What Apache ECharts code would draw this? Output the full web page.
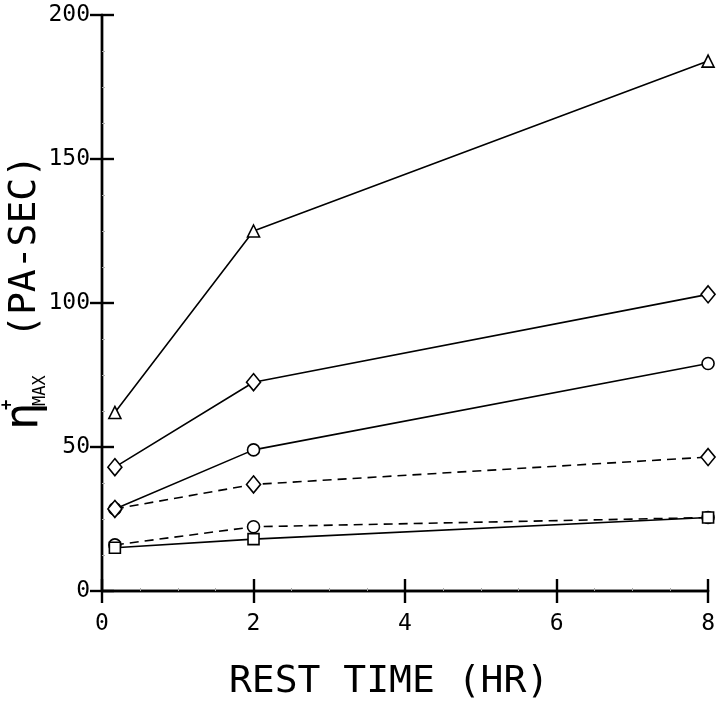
<!DOCTYPE html>
<html>
<head>
<meta charset="utf-8">
<script src="https://cdn.jsdelivr.net/npm/echarts@6/dist/echarts.min.js"></script>
<style>
html,body{margin:0;padding:0;background:#fff;}
#chart{width:718px;height:706px;}
</style>
</head>
<body>
<div id="chart"></div>
<script>
// ---- data ----
const restTimes = [0.17, 2, 8];
const triangleSolid = [62, 125, 184];
const diamondSolid = [43, 72.5, 103];
const circleSolid = [28.5, 49, 79];
const diamondDashed = [28.5, 37, 46.5];
const circleDashed = [16, 22.3, 25.5];
const squareSolid = [15, 18, 25.5];
const xTicks = [0, 2, 4, 6, 8];
const yTicks = [0, 50, 100, 150, 200];
const xTitle = 'REST TIME (HR)';

const FONT = '"DejaVu Sans Mono", monospace';

function pts(ys) { return restTimes.map((x, i) => [x, ys[i]]); }

function mk(ys, symbol, size, dashed) {
  return {
    type: 'line',
    data: pts(ys),
    symbol: symbol,
    symbolSize: size,
    showSymbol: true,
    animation: false,
    lineStyle: { color: '#000', width: 1.6, type: dashed ? [9, 6] : 'solid' },
    itemStyle: { color: '#fff', borderColor: '#000', borderWidth: 1.6 },
    z: 3
  };
}

const chart = echarts.init(document.getElementById('chart'), null, { renderer: 'canvas' });

const axisCommon = {
  axisLine: { show: true, lineStyle: { color: '#000', width: 2.4 } },
  axisTick: { show: true, inside: true, length: 12, lineStyle: { color: '#000', width: 2.4 } },
  minorTick: { show: true, splitNumber: 4, length: 3, lineStyle: { color: '#aaa', width: 1 } },
  splitLine: { show: false }
};

chart.setOption({
  animation: false,
  backgroundColor: '#fff',
  grid: { left: 102, right: 9, top: 15, bottom: 91, containLabel: false },
  xAxis: [
    Object.assign({
      type: 'value', min: 0, max: 8, interval: 2, position: 'bottom',
      axisLabel: { color: '#000', fontFamily: FONT, fontSize: 23, margin: 22,
        formatter: v => xTicks.includes(v) ? String(v) : '' },
      name: xTitle, nameLocation: 'middle', nameGap: 72,
      nameTextStyle: { color: '#000', fontFamily: FONT, fontSize: 38, padding: [0, 32, 0, 0] }
    }, axisCommon),
    Object.assign({
      type: 'value', min: 0, max: 8, interval: 2, position: 'top',
      axisLabel: { show: false }
    }, axisCommon, { minorTick: { show: false } })
  ],
  yAxis: [
    Object.assign({
      type: 'value', min: 0, max: 200, interval: 50, position: 'left',
      axisLabel: { color: '#000', fontFamily: FONT, fontSize: 23, margin: 12,
        formatter: v => yTicks.includes(v) ? String(v) : '' }
    }, axisCommon),
    Object.assign({
      type: 'value', min: 0, max: 200, interval: 50, position: 'right',
      axisLabel: { show: false }
    }, axisCommon, { minorTick: { show: false } })
  ],
  graphic: [
    {
      type: 'group',
      x: 22, y: 430,
      rotation: Math.PI / 2,
      children: [
        { type: 'text', x: 0, y: 3,
          style: { text: 'η', font: '46px ' + FONT, fill: '#000', textVerticalAlign: 'middle', textAlign: 'left' } },
        { type: 'text', x: 20, y: -14,
          style: { text: '+', font: 'bold 17px ' + FONT, fill: '#000', textVerticalAlign: 'middle', textAlign: 'left' } },
        { type: 'text', x: 24, y: 19,
          style: { text: 'MAX', font: '17px ' + FONT, fill: '#000', textVerticalAlign: 'middle', textAlign: 'left' } },
        { type: 'text', x: 92, y: 3,
          style: { text: '(PA-SEC)', font: '38px ' + FONT, fill: '#000', textVerticalAlign: 'middle', textAlign: 'left' } }
      ]
    }
  ],
  series: [
    mk(triangleSolid, 'triangle', 12, false),
    mk(diamondSolid, 'diamond', [14, 17], false),
    mk(circleSolid, 'circle', 12, false),
    mk(diamondDashed, 'diamond', [14, 17], true),
    mk(circleDashed, 'circle', 12, true),
    mk(squareSolid, 'rect', 11, false)
  ]
});
</script>
</body>
</html>
